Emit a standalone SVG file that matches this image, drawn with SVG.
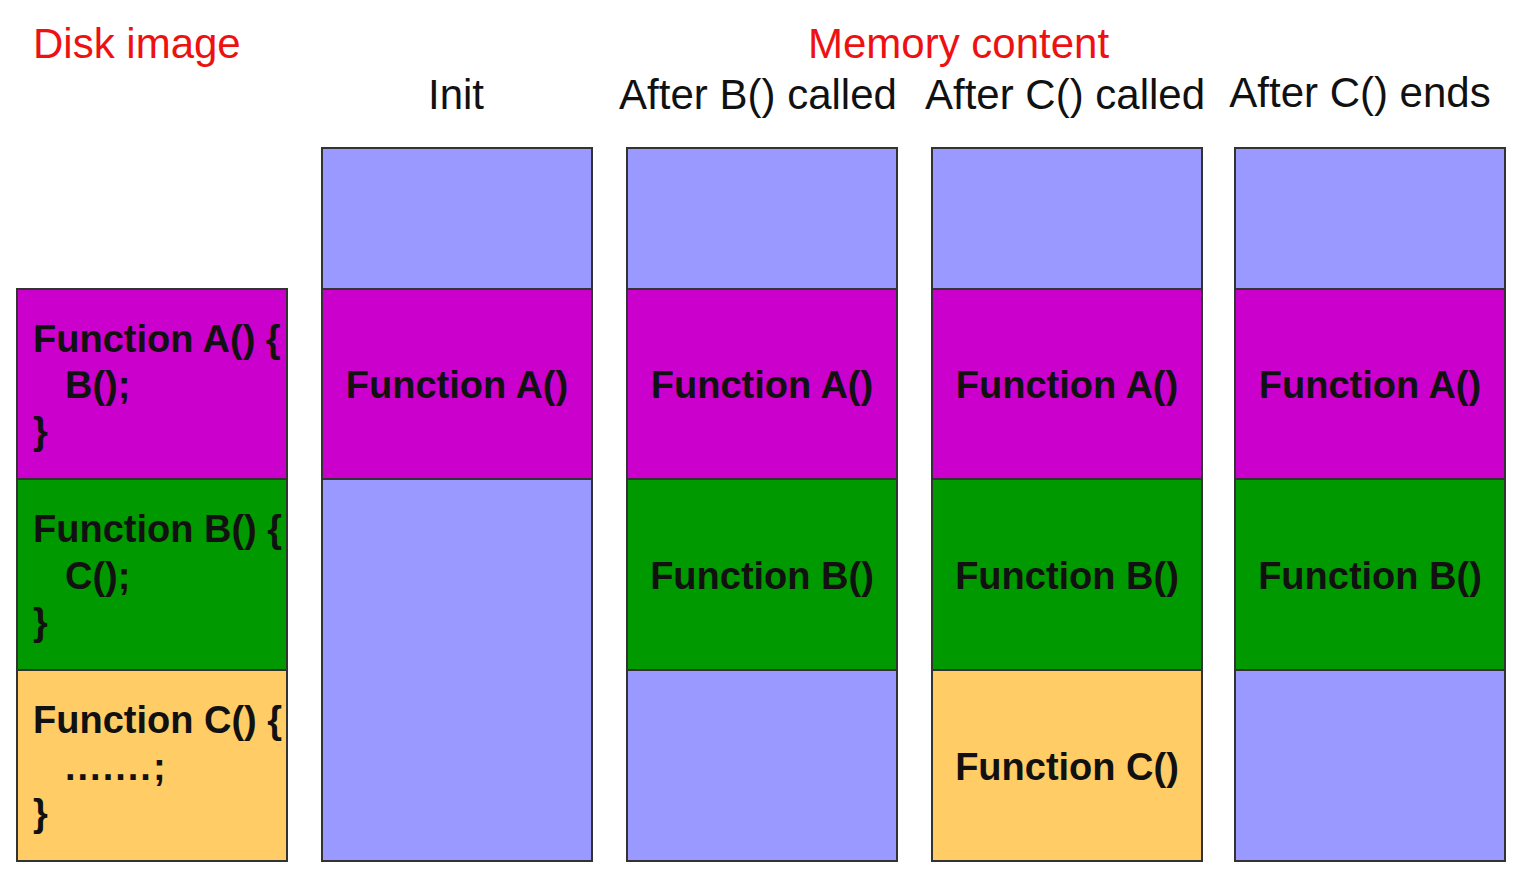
<svg xmlns="http://www.w3.org/2000/svg" width="1519" height="873" viewBox="0 0 1519 873">
<style>
.box{stroke:#333;stroke-width:2}
.free{fill:#9999ff}
.fa{fill:#cc00cc}
.fb{fill:#009900}
.fc{fill:#ffcc66}
.hdr{font-family:"Liberation Sans",Arial,sans-serif;font-size:42px}
.red{fill:#ee1111}
.blk{fill:#111}
.lbl{font-family:"Liberation Sans",Arial,sans-serif;font-size:38px;font-weight:bold;fill:#111;text-anchor:middle}
.code{font-family:"Liberation Sans",Arial,sans-serif;font-size:38px;font-weight:bold;fill:#111}
</style>
<rect width="1519" height="873" fill="#ffffff"/>
<g id="titles">
<text class="hdr red" x="33" y="58">Disk image</text>
<text class="hdr red" x="808" y="58">Memory content</text>
<text class="hdr blk" x="456" y="109" text-anchor="middle">Init</text>
<text class="hdr blk" x="758" y="109" text-anchor="middle">After B() called</text>
<text class="hdr blk" x="1065" y="109" text-anchor="middle">After C() called</text>
<text class="hdr blk" x="1360" y="107" text-anchor="middle">After C() ends</text>
</g>
<g id="disk">
<rect class="box fa" x="17" y="289" width="270" height="190"/>
<rect class="box fb" x="17" y="479" width="270" height="191"/>
<rect class="box fc" x="17" y="670" width="270" height="191"/>
<text class="code" x="33" y="352">Function A() {</text>
<text class="code" x="65" y="398">B();</text>
<text class="code" x="33" y="444">}</text>
<text class="code" x="33" y="542">Function B() {</text>
<text class="code" x="65" y="589">C();</text>
<text class="code" x="33" y="635">}</text>
<text class="code" x="33" y="733">Function C() {</text>
<text class="code" x="65" y="780" letter-spacing="2">.......;</text>
<text class="code" x="33" y="826">}</text>
</g>
<g id="mem-init">
<rect class="box free" x="322" y="148" width="270" height="141"/>
<rect class="box fa" x="322" y="289" width="270" height="190"/>
<rect class="box free" x="322" y="479" width="270" height="382"/>
<text class="lbl" x="457" y="398">Function A()</text>
</g>
<g id="mem-after-b">
<rect class="box free" x="627" y="148" width="270" height="141"/>
<rect class="box fa" x="627" y="289" width="270" height="190"/>
<rect class="box fb" x="627" y="479" width="270" height="191"/>
<rect class="box free" x="627" y="670" width="270" height="191"/>
<text class="lbl" x="762" y="398">Function A()</text>
<text class="lbl" x="762" y="589">Function B()</text>
</g>
<g id="mem-after-c">
<rect class="box free" x="932" y="148" width="270" height="141"/>
<rect class="box fa" x="932" y="289" width="270" height="190"/>
<rect class="box fb" x="932" y="479" width="270" height="191"/>
<rect class="box fc" x="932" y="670" width="270" height="191"/>
<text class="lbl" x="1067" y="398">Function A()</text>
<text class="lbl" x="1067" y="589">Function B()</text>
<text class="lbl" x="1067" y="780">Function C()</text>
</g>
<g id="mem-c-ends">
<rect class="box free" x="1235" y="148" width="270" height="141"/>
<rect class="box fa" x="1235" y="289" width="270" height="190"/>
<rect class="box fb" x="1235" y="479" width="270" height="191"/>
<rect class="box free" x="1235" y="670" width="270" height="191"/>
<text class="lbl" x="1370" y="398">Function A()</text>
<text class="lbl" x="1370" y="589">Function B()</text>
</g>
<g id="connectors"></g>
</svg>
